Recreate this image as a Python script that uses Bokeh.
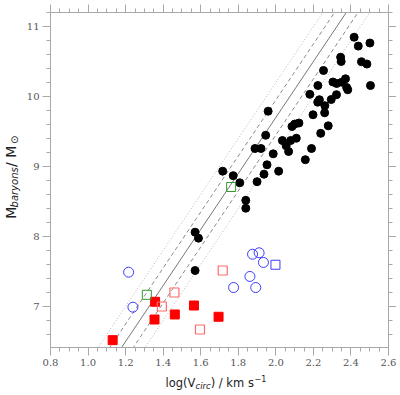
import numpy as np
from bokeh.plotting import figure
from bokeh.layouts import row, column
from bokeh.models import Range1d, LinearAxis, FixedTicker, Label, PrintfTickFormatter
from bokeh.embed import file_html
from bokeh.resources import INLINE

# ---- data (log Vcirc [km/s], log Mbaryons [Msun]) ----
disk_logv = [2.417, 2.439, 2.501, 2.345, 2.348, 2.456, 2.485, 2.254, 2.224, 2.304,
             2.324, 2.351, 2.371, 2.377, 2.383, 2.504, 2.181, 2.323, 2.295, 2.232,
             2.223, 2.261, 2.260, 2.198, 2.279, 1.959, 2.123, 2.101, 2.086, 2.239,
             1.946, 2.035, 2.079, 2.109, 2.055, 2.068, 1.889, 1.921, 1.986, 2.190,
             2.157, 1.953, 1.937, 2.015, 1.717, 1.773, 1.808, 1.900, 1.840, 1.840,
             1.570, 1.588, 1.570]
disk_logm = [10.847, 10.72, 10.764, 10.561, 10.50, 10.497, 10.464, 10.371, 10.157, 10.207,
             10.186, 10.204, 10.253, 10.129, 10.097, 10.157, 10.031, 10.026, 9.957, 9.954,
             9.919, 9.869, 9.767, 9.739, 9.581, 9.79, 9.621, 9.607, 9.571, 9.474,
             9.446, 9.371, 9.371, 9.404, 9.296, 9.214, 9.257, 9.257, 9.181, 9.257,
             9.097, 9.024, 8.89, 8.933, 8.933, 8.869, 8.767, 8.783, 8.517, 8.404,
             8.061, 7.976, 7.514]

red_filled_logv = [1.131, 1.357, 1.354, 1.462, 1.564, 1.695]
red_filled_logm = [6.519, 7.067, 6.814, 6.886, 7.014, 6.853]

red_open_logv = [1.393, 1.460, 1.717, 1.596]
red_open_logm = [7.00, 7.20, 7.514, 6.671]

blue_circ_logv = [1.216, 1.239, 1.876, 1.911, 1.934, 1.862, 1.775, 1.893]
blue_circ_logm = [7.49, 6.99, 7.747, 7.767, 7.629, 7.429, 7.271, 7.271]

blue_sq_logv = [1.998]
blue_sq_logm = [7.596]

green_sq_logv = [1.762, 1.313]
green_sq_logm = [8.707, 7.167]

# baryonic Tully-Fisher relation: logM = slope*logV + zero, with scatter bands
btf_slope = 4.0
btf_zero = 1.7
band_dashed = 0.25
band_dotted = 0.5

x_ticks = [0.8, 1.0, 1.2, 1.4, 1.6, 1.8, 2.0, 2.2, 2.4, 2.6]
y_ticks = [7, 8, 9, 10, 11]
x_min, x_max = 0.8, 2.6
y_min, y_max = 6.414, 11.2

YLAB_W = 23
MAIN_W, MAIN_H = 373, 372
XLAB_H = 23

p = figure(width=MAIN_W, height=MAIN_H, output_backend="svg", toolbar_location=None,
           x_range=Range1d(x_min, x_max), y_range=Range1d(y_min, y_max),
           x_axis_location=None, y_axis_location=None,
           min_border_left=25, min_border_right=8, min_border_top=12, min_border_bottom=25)
p.outline_line_color = None
p.grid.visible = False
p.background_fill_color = "white"
p.border_fill_color = "white"

AX = "#a8a8a8"
x_minor = list(np.round(np.arange(0.8, 2.6001, 0.05), 3))
y_minor = list(np.round(np.arange(6.6, 11.2001, 0.2), 3))


def make_axis(ticks, minor, labels, fmt, tick_out=8, minor_out=4):
    ax = LinearAxis(ticker=FixedTicker(ticks=ticks, minor_ticks=minor))
    ax.axis_line_color = AX
    ax.major_tick_line_color = AX
    ax.minor_tick_line_color = AX
    ax.major_tick_in = 0
    ax.minor_tick_in = 0
    ax.major_tick_out = tick_out
    ax.minor_tick_out = minor_out
    ax.formatter = PrintfTickFormatter(format=fmt)
    if labels:
        ax.major_label_text_font = "DejaVu Serif"
        ax.major_label_text_font_size = "10px"
        ax.major_label_text_color = "#555555"
        ax.major_label_standoff = 3
    else:
        ax.major_label_overrides = {t: "" for t in ticks}
        ax.major_label_text_font_size = "1px"
        ax.major_label_standoff = 0
    return ax


p.add_layout(make_axis(x_ticks, x_minor, True, "%.1f"), "below")
p.add_layout(make_axis(x_ticks, x_minor, False, "%.1f"), "above")
p.add_layout(make_axis(y_ticks, y_minor, True, "%d"), "left")
p.add_layout(make_axis(y_ticks, y_minor, False, "%d"), "right")

# relation lines
xl = np.array([x_min, x_max])
for off, dash, col in [(-band_dotted, "1 2", "#b8b8b8"), (-band_dashed, "4 3", "#8a8a8a"),
                       (0.0, "solid", "#777777"), (band_dashed, "4 3", "#8a8a8a"),
                       (band_dotted, "1 2", "#b8b8b8")]:
    p.line(xl, btf_slope * xl + btf_zero + off, line_color=col, line_width=1, line_dash=dash)

p.scatter(disk_logv, disk_logm, marker="circle", size=8, fill_color="black", line_color="black")
p.scatter(red_filled_logv, red_filled_logm, marker="square", size=9,
          fill_color="#ff0000", line_color="#ff0000")
p.scatter(red_open_logv, red_open_logm, marker="square", size=9,
          fill_color=None, line_color="#ff6a6a", line_width=1.2)
p.scatter(blue_circ_logv, blue_circ_logm, marker="circle", size=10,
          fill_color=None, line_color="#3c3cff", line_width=1)
p.scatter(blue_sq_logv, blue_sq_logm, marker="square", size=9,
          fill_color=None, line_color="#3c3cff", line_width=1)
p.scatter(green_sq_logv, green_sq_logm, marker="square", size=9,
          fill_color=None, line_color="#2e9a2e", line_width=1)

LBL = "#222222"
FONT = "DejaVu Sans"


def text_fig(w, h):
    f = figure(width=w, height=h, output_backend="svg", toolbar_location=None,
               x_range=Range1d(0, w), y_range=Range1d(0, h),
               x_axis_location=None, y_axis_location=None, min_border=0)
    f.outline_line_color = None
    f.grid.visible = False
    f.border_fill_color = "white"
    return f


def lab(f, x, y, text, size, italic=False, angle=0.0, baseline="alphabetic"):
    f.add_layout(Label(x=x, y=y, text=text, text_font=FONT, text_font_size=size,
                       text_color=LBL, text_font_style="italic" if italic else "normal",
                       text_baseline=baseline, text_align="left", angle=angle))


# y label: M_baryons / M_sun (rotated, reads bottom to top)
ylab = text_fig(YLAB_W, MAIN_H)
A = np.pi / 2
lab(ylab, 10.5, 143.0, "M", "14px", angle=A, baseline="middle")
lab(ylab, 14.0, 155.5, "baryons", "10px", italic=True, angle=A, baseline="middle")
lab(ylab, 10.5, 200.5, " / M", "14px", angle=A, baseline="middle")
lab(ylab, 14.0, 226.0, "\u2299", "10px", angle=A, baseline="middle")

# x label: log(V_circ) / km s^-1
XLAB_W = YLAB_W + MAIN_W
xlab = text_fig(XLAB_W, XLAB_H)
lab(xlab, 165.0, 13.0, "log(V", "11.5px")
lab(xlab, 195.0, 9.7, "circ", "8.5px", italic=True)
lab(xlab, 210.2, 13.0, ") / km s", "11.5px")
lab(xlab, 254.0, 17.0, "\u22121", "8px")

layout = column(row(ylab, p), xlab)
open("out.html", "w").write(file_html(layout, INLINE))
